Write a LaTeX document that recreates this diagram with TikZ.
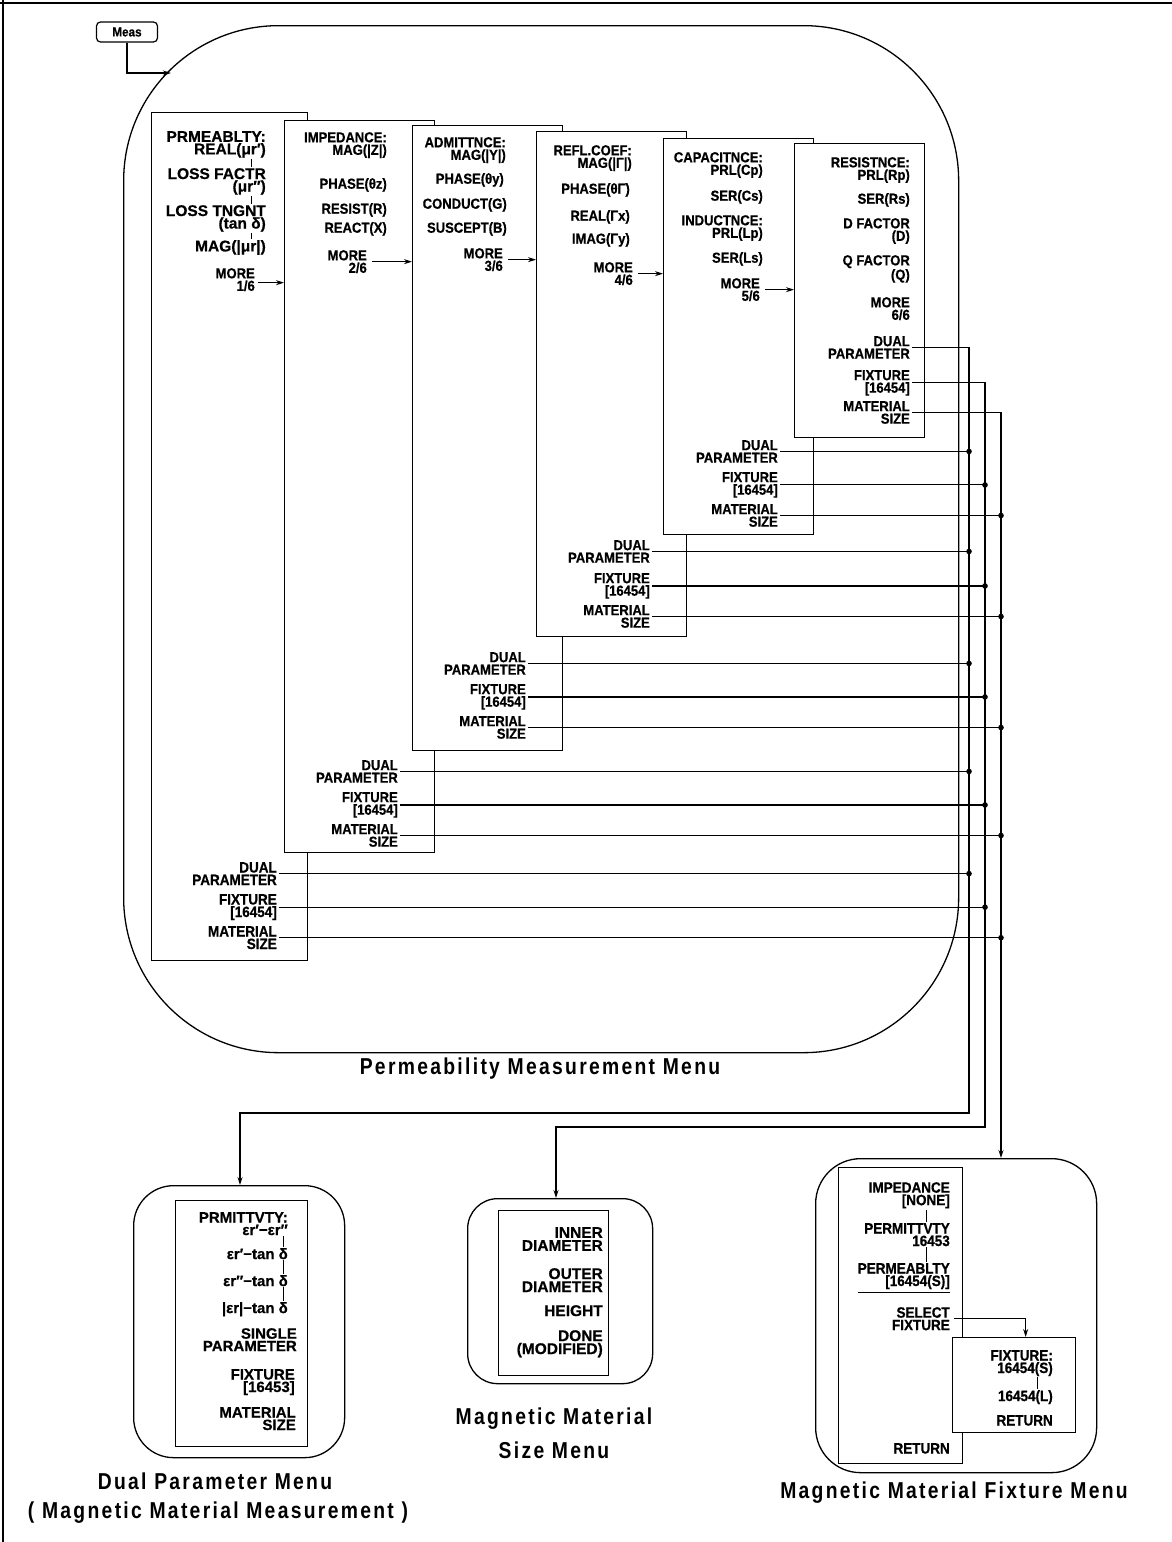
\documentclass[tikz,border=0pt]{standalone}
\usepackage{fontspec}
\setmainfont{Liberation Sans}
\newfontfamily\mfam[FakeStretch=0.9,FakeBold=0.6]{Liberation Sans}
\newfontfamily\nfam[FakeBold=0.6]{Liberation Sans}
\newfontfamily\tfam[FakeStretch=0.84,LetterSpace=10]{Liberation Sans}
\usetikzlibrary{arrows.meta}
\begin{document}
\begin{tikzpicture}[x=1pt,y=-1pt,
  menubox/.style={draw, fill=white, line width=1.3pt, inner sep=0pt, anchor=north west},
  outer/.style={draw, line width=1.3pt, inner sep=0pt, anchor=north west},
  lbl/.style={anchor=north east, inner sep=0pt, align=right, font=\mfam\bfseries\fontsize{14.5}{12.5}\selectfont},
  lblA/.style={lbl, font=\nfam\bfseries\fontsize{15.5}{12.5}\selectfont},
  lblB/.style={lbl, font=\mfam\bfseries\fontsize{15}{12.5}\selectfont},
  lblD/.style={lbl, font=\nfam\bfseries\fontsize{15}{12.5}\selectfont},
  lblS/.style={lbl, font=\nfam\bfseries\fontsize{15.5}{13}\selectfont},
  lblF/.style={lbl, font=\mfam\bfseries\fontsize{15}{12.5}\selectfont},
  ttl/.style={inner sep=0pt, font=\tfam\bfseries\fontsize{23}{25}\selectfont},
  arr/.style={line width=1.1pt, -{Stealth[length=8pt,width=5pt]}},
  bus/.style={line width=1.1pt},
  tap/.style={bus, -{Circle[length=5.5pt]}, shorten >=-2.75pt},
  tick/.style={line width=0.8pt, shorten <=1pt, shorten >=1pt}]
\useasboundingbox (0,0) rectangle (1172,1542);
% frame
\draw[line width=2.5pt] (0,3) -- (1172,3);
\draw[line width=2pt] (3,0) -- (3,1542);
% Meas key
\node[draw, rounded corners=4pt, line width=1.2pt, minimum width=61pt, minimum height=20pt, inner sep=0pt,
  font=\mfam\bfseries\fontsize{13}{14}\selectfont] (meas) at (127,32) {Meas};
% permeability menu frame
\node[outer, rounded corners=155pt, minimum width=835pt, minimum height=1027pt] (PM) at (123,25) {};
\coordinate (measin) at (171,73);
\draw[arr] (meas.south) |- (measin);
\node[ttl] (T1) at (540,1069) {Permeability Measurement Menu};
% boxes
\node[menubox, minimum width=156pt, minimum height=848pt] (B1) at (151,112) {};
\node[menubox, minimum width=150pt, minimum height=732pt] (B2) at (284,120) {};
\node[menubox, minimum width=150pt, minimum height=625pt] (B3) at (412,125) {};
\node[menubox, minimum width=150pt, minimum height=505pt] (B4) at (536,131) {};
\node[menubox, minimum width=150pt, minimum height=396pt] (B5) at (663,138) {};
\node[menubox, minimum width=130pt, minimum height=294pt] (B6) at (794,143) {};
% box 1
\node[lblA] (P1a) at (266,131) {PRMEABLTY:\\REAL(μr′)};
\node[lblA] (P1b) at (266,168) {LOSS FACTR\\(μr″)};
\node[lblA] (P1c) at (266,205) {LOSS TNGNT\\(tan δ)};
\node[lblA] (P1d) at (266,240) {MAG(|μr|)};
\node[lbl] (P1e) at (255,268) {MORE\\1/6};
\node[lblB] (D1) at (277,862) {DUAL\\PARAMETER};
\node[lblB] (F1) at (277,894) {FIXTURE\\{}[16454]};
\node[lblB] (M1) at (277,926) {MATERIAL\\SIZE};
\draw[tick] ([xshift=-15pt]P1a.south east) -- ([xshift=-15pt]P1b.north east);
\draw[tick] ([xshift=-15pt]P1b.south east) -- ([xshift=-15pt]P1c.north east);
\draw[tick] ([xshift=-15pt]P1c.south east) -- ([xshift=-15pt]P1d.north east);
% box 2
\node[lbl] (P2a) at (387,132) {IMPEDANCE:\\MAG(|Z|)};
\node[lbl] (P2b) at (387,178) {PHASE(θz)};
\node[lbl] (P2c) at (387,203) {RESIST(R)};
\node[lbl] (P2d) at (387,222) {REACT(X)};
\node[lbl] (P2e) at (367,250) {MORE\\2/6};
\node[lbl] (D2) at (398,760) {DUAL\\PARAMETER};
\node[lbl] (F2) at (398,792) {FIXTURE\\{}[16454]};
\node[lbl] (M2) at (398,824) {MATERIAL\\SIZE};
% box 3
\node[lbl] (P3a) at (506,137) {ADMITTNCE:\\MAG(|Y|)};
\node[lbl] (P3b) at (504,173) {PHASE(θy)};
\node[lbl] (P3c) at (507,198) {CONDUCT(G)};
\node[lbl] (P3d) at (507,222) {SUSCEPT(B)};
\node[lbl] (P3e) at (503,248) {MORE\\3/6};
\node[lbl] (D3) at (526,652) {DUAL\\PARAMETER};
\node[lbl] (F3) at (526,684) {FIXTURE\\{}[16454]};
\node[lbl] (M3) at (526,716) {MATERIAL\\SIZE};
% box 4
\node[lbl] (P4a) at (632,145) {REFL.COEF:\\MAG(|Γ|)};
\node[lbl] (P4b) at (630,183) {PHASE(θΓ)};
\node[lbl] (P4c) at (630,210) {REAL(Γx)};
\node[lbl] (P4d) at (630,233) {IMAG(Γy)};
\node[lbl] (P4e) at (633,262) {MORE\\4/6};
\node[lbl] (D4) at (650,540) {DUAL\\PARAMETER};
\node[lbl] (F4) at (650,573) {FIXTURE\\{}[16454]};
\node[lbl] (M4) at (650,605) {MATERIAL\\SIZE};
% box 5
\node[lbl] (P5a) at (763,152) {CAPACITNCE:\\PRL(Cp)};
\node[lbl] (P5b) at (763,190) {SER(Cs)};
\node[lbl] (P5c) at (763,215) {INDUCTNCE:\\PRL(Lp)};
\node[lbl] (P5d) at (763,252) {SER(Ls)};
\node[lbl] (P5e) at (760,278) {MORE\\5/6};
\node[lbl] (D5) at (778,440) {DUAL\\PARAMETER};
\node[lbl] (F5) at (778,472) {FIXTURE\\{}[16454]};
\node[lbl] (M5) at (778,504) {MATERIAL\\SIZE};
% box 6
\node[lbl] (P6a) at (910,157) {RESISTNCE:\\PRL(Rp)};
\node[lbl] (P6b) at (910,193) {SER(Rs)};
\node[lbl] (P6c) at (910,218) {D FACTOR\\(D)};
\node[lbl] (P6d) at (910,255) {Q FACTOR\\(Q)};
\node[lbl] (P6e) at (910,297) {MORE\\6/6};
\node[lbl] (D6) at (910,336) {DUAL\\PARAMETER};
\node[lbl] (F6) at (910,370) {FIXTURE\\{}[16454]};
\node[lbl] (M6) at (910,401) {MATERIAL\\SIZE};
% MORE arrows
\coordinate (a1) at ([xshift=3pt,yshift=-3pt]P1e.east);
\draw[arr] (a1) -- (a1 -| B2.west);
\draw[arr] ([xshift=5pt]P2e.east) -- (P2e.east -| B3.west);
\draw[arr] ([xshift=5pt]P3e.east) -- (P3e.east -| B4.west);
\draw[arr] ([xshift=5pt]P4e.east) -- (P4e.east -| B5.west);
\draw[arr] ([xshift=5pt]P5e.east) -- (P5e.east -| B6.west);
% bottom menus
\node[outer, rounded corners=40pt, minimum width=211pt, minimum height=272pt] (DM) at (133,1185) {};
\node[menubox, minimum width=132pt, minimum height=246pt] (DB) at (175,1200) {};
\node[outer, rounded corners=30pt, minimum width=185pt, minimum height=185pt] (SM) at (467,1198) {};
\node[menubox, minimum width=110pt, minimum height=165pt] (SB) at (498,1210) {};
\node[outer, rounded corners=45pt, minimum width=281pt, minimum height=314pt] (FM) at (815,1158) {};
\node[menubox, minimum width=124pt, minimum height=296pt] (FB1) at (838,1167) {};
\node[menubox, minimum width=123pt, minimum height=95pt] (FB2) at (952,1337) {};
% bus lines
\coordinate (dA) at (969,1113); \coordinate (dB) at (240,1113);
\coordinate (fA) at (985,1127); \coordinate (fB) at (556,1127);
\coordinate (mA) at (1001,0);
\draw[arr] ([xshift=2pt]D6.east) -| (dA) -- (dB) -- (dB |- DM.north);
\draw[arr] ([xshift=2pt]F6.east) -| (fA) -- (fB) -- (fB |- SM.north);
\draw[arr] ([xshift=2pt]M6.east) -| (mA |- FM.north);
\foreach \n in {1,2,3,4,5}{
  \draw[tap] ([xshift=2pt]D\n.east) -- (D\n.east -| dA);
  \draw[tap] ([xshift=2pt]F\n.east) -- (F\n.east -| fA);
  \draw[tap] ([xshift=2pt]M\n.east) -- (M\n.east -| mA);
}
% dual parameter menu
\node[lblD] (DPa) at (288,1212) {PRMITTVTY:\\εr′−εr″};
\node[lblD] (DPb) at (288,1248) {εr′−tan δ};
\node[lblD] (DPc) at (288,1275) {εr″−tan δ};
\node[lblD] (DPd) at (288,1302) {|εr|−tan δ};
\node[lblD] (DPe) at (297,1328) {SINGLE\\PARAMETER};
\node[lblD] (DPf) at (295,1369) {FIXTURE\\{}[16453]};
\node[lblD] (DPg) at (296,1407) {MATERIAL\\SIZE};
\draw[tick] ([xshift=-5pt]DPa.south east) -- ([xshift=-5pt]DPb.north east);
\draw[tick] ([xshift=-5pt]DPb.south east) -- ([xshift=-5pt]DPc.north east);
\draw[tick] ([xshift=-5pt]DPc.south east) -- ([xshift=-5pt]DPd.north east);
\node[ttl] (T2) at (215,1481) {Dual Parameter Menu};
\node[ttl] (T3) at (218,1513) {( Magnetic Material Measurement )};
% size menu
\node[lblS] (SZa) at (603,1227) {INNER\\DIAMETER};
\node[lblS] (SZb) at (603,1268) {OUTER\\DIAMETER};
\node[lblS] (SZc) at (603,1305) {HEIGHT};
\node[lblS] (SZd) at (603,1330) {DONE\\(MODIFIED)};
\node[ttl] (T4) at (554,1419) {Magnetic Material};
\node[ttl] (T5) at (554,1450) {Size Menu};
% fixture menu
\node[lblF] (FXa) at (950,1182) {IMPEDANCE\\{}[NONE]};
\node[lblF] (FXb) at (950,1223) {PERMITTVTY\\16453};
\node[lblF] (FXc) at (950,1263) {PERMEABLTY\\{}[16454(S)]};
\node[lblF] (FXd) at (950,1307) {SELECT\\FIXTURE};
\node[lblF] (FXe) at (950,1443) {RETURN};
\draw[tick] ([xshift=-24pt]FXa.south east) -- ([xshift=-24pt]FXb.north east);
\draw[tick] ([xshift=-24pt]FXb.south east) -- ([xshift=-24pt]FXc.north east);
\draw[line width=1pt] ([yshift=-3pt]FXc.south west) -- ([yshift=-3pt]FXc.south east);
\draw[arr] ([xshift=4pt]FXd.east) -| ([xshift=11.5pt]FB2.north);
\node[lblF] (FYa) at (1053,1350) {FIXTURE:\\16454(S)};
\node[lblF] (FYb) at (1053,1390) {16454(L)};
\node[lblF] (FYc) at (1053,1415) {RETURN};
\draw[tick] ([xshift=-16pt]FYa.south east) -- ([xshift=-16pt]FYb.north east);
\node[ttl] (T6) at (954,1493) {Magnetic Material Fixture Menu};
\end{tikzpicture}
\end{document}
